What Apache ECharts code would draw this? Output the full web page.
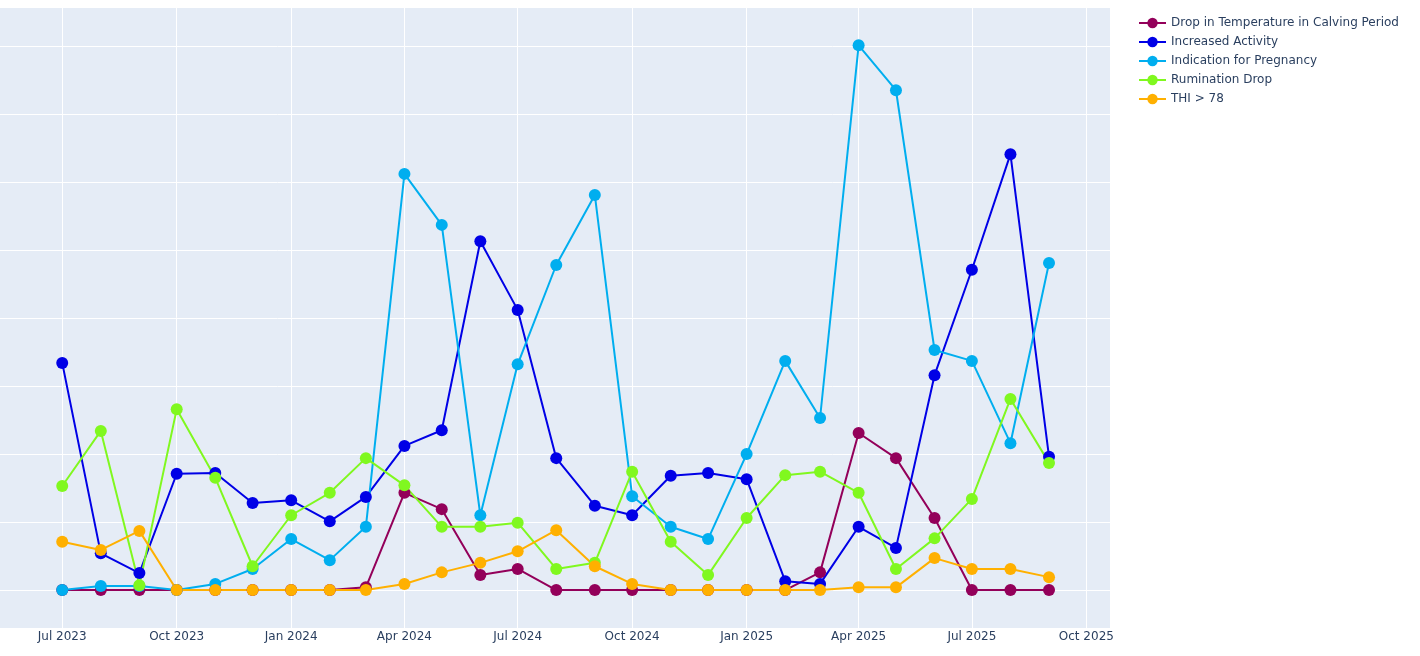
<!DOCTYPE html>
<html lang="en">

<head>
  <meta charset="UTF-8">
  <script src="https://cdn.jsdelivr.net/npm/echarts@6/dist/echarts.min.js"></script>
  <title>Alerts per month</title>
  <style>
    html,
    body {
      margin: 0;
      background: #fff;
    }

    #chart {
      width: 1420px;
      height: 656px;
    }
  </style>
</head>

<body>
  <div id="chart"></div>

  <script type="text/javascript">
    // months Jul 2023 .. Sep 2025
    var months = [
      '2023-07-01', '2023-08-01', '2023-09-01', '2023-10-01', '2023-11-01', '2023-12-01',
      '2024-01-01', '2024-02-01', '2024-03-01', '2024-04-01', '2024-05-01', '2024-06-01',
      '2024-07-01', '2024-08-01', '2024-09-01', '2024-10-01', '2024-11-01', '2024-12-01',
      '2025-01-01', '2025-02-01', '2025-03-01', '2025-04-01', '2025-05-01', '2025-06-01',
      '2025-07-01', '2025-08-01', '2025-09-01'
    ];

    var seriesNames = [
      'Drop in Temperature in Calving Period',
      'Increased Activity',
      'Indication for Pregnancy',
      'Rumination Drop',
      'THI > 78'
    ];

    var dropTemp = [0, 0, 0, 0, 0, 0, 0, 0, 0.2, 7.15, 5.95, 1.1, 1.55, 0, 0, 0, 0, 0, 0, 0, 1.3, 11.55, 9.7, 5.3, 0, 0, 0];
    var activity = [16.7, 2.7, 1.25, 8.55, 8.6, 6.4, 6.6, 5.05, 6.85, 10.6, 11.75, 25.65, 20.6, 9.7, 6.2, 5.5, 8.4, 8.6, 8.15, 0.65, 0.45, 4.65, 3.1, 15.8, 23.55, 32.05, 9.8];
    var pregnancy = [0, 0.3, 0.3, 0, 0.45, 1.55, 3.75, 2.2, 4.65, 30.6, 26.85, 5.5, 16.6, 23.9, 29.05, 6.9, 4.65, 3.75, 10, 16.85, 12.65, 40.05, 36.75, 17.65, 16.85, 10.8, 24.05];
    var rumination = [7.65, 11.7, 0.35, 13.3, 8.25, 1.75, 5.5, 7.15, 9.7, 7.7, 4.65, 4.65, 4.95, 1.55, 2, 8.7, 3.55, 1.1, 5.3, 8.45, 8.7, 7.15, 1.55, 3.8, 6.7, 14.05, 9.35];
    var thi = [3.55, 2.95, 4.35, 0, 0, 0, 0, 0, 0, 0.45, 1.3, 2, 2.85, 4.4, 1.75, 0.45, 0, 0, 0, 0, 0, 0.2, 0.2, 2.35, 1.55, 1.55, 0.95];

    var colors = ['#93005a', '#0000e6', '#00aeef', '#80f81f', '#ffb000'];
    var quarterTicks = ['2023-07-01', '2023-10-01', '2024-01-01', '2024-04-01', '2024-07-01',
      '2024-10-01', '2025-01-01', '2025-04-01', '2025-07-01', '2025-10-01'];
    var monthNames = ['Jan', 'Feb', 'Mar', 'Apr', 'May', 'Jun', 'Jul', 'Aug', 'Sep', 'Oct', 'Nov', 'Dec'];

    function toTime(s) {
      var p = s.split('-');
      return Date.UTC(+p[0], +p[1] - 1, +p[2]);
    }

    var dom = document.getElementById('chart');
    var myChart = echarts.init(dom, null, { renderer: 'canvas' });

    var allValues = [dropTemp, activity, pregnancy, rumination, thi];
    var series = seriesNames.map(function (name, i) {
      return {
        name: name,
        type: 'line',
        data: months.map(function (m, j) { return [toTime(m), allValues[i][j]]; }),
        symbol: 'circle',
        symbolSize: 12,
        showSymbol: true,
        lineStyle: { width: 2, color: colors[i] },
        itemStyle: { color: colors[i] },
        emphasis: { disabled: true },
        animation: false
      };
    });

    var xMin = toTime('2023-05-12');
    var xMax = toTime('2025-10-20');
    var tickValues = quarterTicks.map(toTime);

    var option = {
      backgroundColor: '#fff',
      textStyle: { fontFamily: '"DejaVu Sans", Verdana, sans-serif' },
      grid: {
        left: 0,
        right: 310,
        top: 7,
        bottom: 28,
        show: true,
        backgroundColor: '#e5ecf6',
        borderWidth: 0,
        containLabel: false
      },
      legend: {
        orient: 'vertical',
        left: 1133,
        top: 12,
        itemWidth: 27,
        itemHeight: 13,
        itemGap: 7,
        data: seriesNames,
        textStyle: { color: '#2a3f5f', fontSize: 12, fontFamily: '"DejaVu Sans", Verdana, sans-serif' }
      },
      xAxis: [
        {
          type: 'value',
          min: xMin,
          max: xMax,
          axisLine: { show: false },
          axisTick: { show: false, customValues: tickValues },
          axisLabel: {
            customValues: tickValues,
            color: '#2a3f5f',
            fontSize: 12,
            margin: 3,
            formatter: function (v) {
              var d = new Date(v);
              return monthNames[d.getUTCMonth()] + ' ' + d.getUTCFullYear();
            }
          },
          splitLine: { show: true, lineStyle: { color: '#ffffff', width: 1 } }
        },
        {
          // zero line
          type: 'value',
          min: xMin,
          max: xMax,
          axisLine: { show: true, onZero: true, lineStyle: { color: '#ffffff', width: 2 } },
          axisTick: { show: false },
          axisLabel: { show: false },
          splitLine: { show: false }
        }
      ],
      yAxis: {
        type: 'value',
        min: -2.79,
        max: 42.87,
        splitNumber: 9,
        minInterval: 5,
        maxInterval: 5,
        axisLine: { show: false },
        axisTick: { show: false },
        axisLabel: { show: false },
        splitLine: { show: true, showMinLine: false, showMaxLine: false, lineStyle: { color: '#ffffff', width: 1 } }
      },
      series: series
    };

    myChart.setOption(option);
  </script>
</body>

</html>
